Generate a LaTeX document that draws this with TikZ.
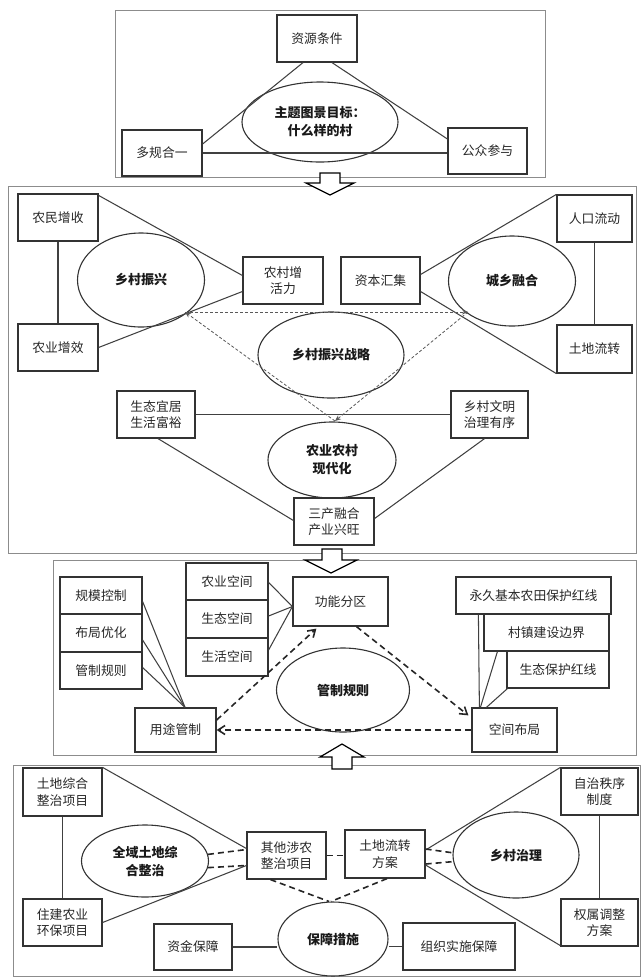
\documentclass[tikz,border=0pt]{standalone}
\usepackage{fontspec}
\setmainfont{Noto Sans CJK SC}
\usetikzlibrary{arrows.meta,calc,shapes.geometric}
\begin{document}
\begin{tikzpicture}[x=1pt,y=-1pt,
  bx/.style={draw=black!80, line width=1.2pt, inner sep=0pt, align=center, font=\fontsize{12.8}{16.5}\selectfont, text=black!85},
  el/.style={ellipse, draw=black!80, line width=1.1pt, inner sep=0pt, align=center, font=\fontsize{13}{18}\selectfont\bfseries, text=black!90},
  ln/.style={draw=black!75, line width=1.05pt},
  frm/.style={draw=black!45, line width=1pt},
  tdash/.style={draw=black!65, line width=0.8pt, dash pattern=on 3pt off 2pt},
  kdash/.style={draw=black!85, line width=1.6pt, dash pattern=on 6pt off 4pt},
  blk/.style={draw=black, line width=1.2pt, fill=white, line join=miter}
]
\useasboundingbox (0,0) rectangle (643,978);

% ---------------- frames ----------------
\draw[frm] (115,10) rectangle (545,177);
\draw[frm] (8,186) rectangle (636,553);
\draw[frm] (53,560) rectangle (636,755);
\draw[frm] (13,765) rectangle (640,976);

% ---------------- panel 1 ----------------
\node[bx, minimum width=80pt, minimum height=47pt] (zy) at (317,38.5) {资源条件};
\node[el, minimum width=156pt, minimum height=80pt] (e1) at (320,122) {主题图景目标：\\什么样的村};
\node[bx, minimum width=80pt, minimum height=46pt] (dg) at (162,153) {多规合一};
\node[bx, minimum width=79pt, minimum height=46pt] (gz) at (487.5,151) {公众参与};
\draw[ln] ($(zy.south)+(-14,0)$) -- ($(dg.east)+(0,-9)$);
\draw[ln] ($(zy.south)+(15,0)$) -- ($(gz.west)+(0,-12)$);
\draw[ln] (dg.east) -- (dg.east -| gz.west);

% ---------------- panel 2 ----------------
\node[bx, minimum width=80pt, minimum height=47pt] (nm) at (58,217.5) {农民增收};
\node[bx, minimum width=80pt, minimum height=47pt] (ny) at (58,347.5) {农业增效};
\node[el, minimum width=127pt, minimum height=94pt] (e2) at (141,280) {乡村振兴};
\node[bx, minimum width=80pt, minimum height=47pt] (nc) at (283,280.5) {农村增\\活力};
\node[bx, minimum width=79pt, minimum height=47pt] (zb) at (380.5,280.5) {资本汇集};
\node[el, minimum width=127pt, minimum height=90pt] (e3) at (512,281) {城乡融合};
\node[bx, minimum width=75pt, minimum height=47pt] (rk) at (594.5,218.5) {人口流动};
\node[bx, minimum width=75pt, minimum height=48pt] (td) at (594.5,349) {土地流转};
\node[el, minimum width=146pt, minimum height=86pt] (e4) at (331,355) {乡村振兴战略};
\node[bx, minimum width=78pt, minimum height=47pt] (st) at (156,414.5) {生态宜居\\生活富裕};
\node[bx, minimum width=77pt, minimum height=47pt] (xc) at (489.5,414.5) {乡村文明\\治理有序};
\node[el, minimum width=128pt, minimum height=76pt] (e5) at (332,460) {农业农村\\现代化};
\node[bx, minimum width=80pt, minimum height=47pt] (sc) at (334,521.5) {三产融合\\产业兴旺};

\draw[ln] ($(nm.north east)+(0,2)$) -- ($(nc.west)+(0,-5)$);
\draw[ln] (ny.east) -- ($(nc.west)+(0,11)$);
\draw[ln] (nm.south) -- (ny.north);
\draw[ln] ($(zb.east)+(0,-6)$) -- (rk.north west);
\draw[ln] ($(zb.east)+(0,11)$) -- (td.south west);
\draw[ln] (rk.south) -- (td.north);
\draw[ln] (st.east) -- (st.east -| xc.west);
\draw[ln] ($(st.south)+(2,0)$) -- ($(sc.west)+(0,-1)$);
\draw[ln] ($(xc.south)+(-5,0)$) -- ($(sc.east)+(0,-3)$);

\coordinate (tL) at (185,312);
\coordinate (tR) at (468,312);
\coordinate (tB) at (335,421);
\draw[tdash, -{Stealth[length=6pt,width=5pt]}] (tL) -- (tR);
\draw[tdash, -{Stealth[length=6pt,width=5pt]}] (tR) -- (tB);
\draw[tdash, -{Stealth[length=6pt,width=5pt]}] (tB) -- (tL);

% ---------------- panel 3 ----------------
\node[bx, minimum width=82pt, minimum height=37pt] (gm) at (101,595.5) {规模控制};
\node[bx, minimum width=82pt, minimum height=38pt] (bj) at (101,633) {布局优化};
\node[bx, minimum width=82pt, minimum height=37pt] (gzr) at (101,670.5) {管制规则};
\node[bx, minimum width=82pt, minimum height=37pt] (nk) at (227,581.5) {农业空间};
\node[bx, minimum width=82pt, minimum height=38pt] (stk) at (227,619) {生态空间};
\node[bx, minimum width=82pt, minimum height=38pt] (shk) at (227,657) {生活空间};
\node[bx, minimum width=95pt, minimum height=49pt] (gn) at (340.5,601.5) {功能分区};
\node[bx, minimum width=81pt, minimum height=44pt] (yt) at (175.5,730) {用途管制};
\node[bx, minimum width=85pt, minimum height=44pt] (kj) at (514.5,730) {空间布局};
\node[el, minimum width=133pt, minimum height=84pt] (e6) at (343,690) {管制规则};
\node[bx, minimum width=155pt, minimum height=37pt] (yj) at (533.5,595.5) {永久基本农田保护红线};
\node[bx, minimum width=125pt, minimum height=37pt] (cz) at (546.5,632.5) {村镇建设边界};
\node[bx, minimum width=102pt, minimum height=37pt] (sth) at (558,669.5) {生态保护红线};

\coordinate (pY) at ($(yt.north)+(9.5,0)$);
\draw[ln] ($(gm.east)+(0,6)$) -- (pY);
\draw[ln] ($(bj.east)+(0,7)$) -- (pY);
\draw[ln] ($(gzr.east)+(0,-3)$) -- (pY);
\coordinate (pG) at ($(gn.west)+(0,5)$);
\draw[ln] ($(nk.east)+(0,1)$) -- (pG);
\draw[ln] ($(stk.east)+(0,-3)$) -- (pG);
\draw[ln] ($(shk.east)+(0,-7)$) -- (pG);
\draw[ln] ($(yj.south west)+(23,0)$) -- ($(kj.north west)+(8,0)$);
\draw[ln] ($(cz.south west)+(14,0)$) -- ($(kj.north west)+(9,0)$);
\draw[ln] ($(sth.south west)+(1,0)$) -- ($(kj.north west)+(15,0)$);

\draw[kdash, -{Straight Barb[length=7pt,width=9pt,line width=1.6pt]}] ($(yt.east)+(0,-10)$) -- ($(gn.south west)+(24,2)$);
\draw[kdash, -{Straight Barb[length=7pt,width=9pt,line width=1.6pt]}] ($(gn.south)+(16,0)$) -- ($(kj.north west)+(-3,8)$);
\draw[kdash, -{Straight Barb[length=7pt,width=9pt,line width=1.6pt]}] (kj.west) -- (yt.east);

% ---------------- panel 4 ----------------
\node[bx, minimum width=79pt, minimum height=48pt] (tz) at (62.5,792) {土地综合\\整治项目};
\node[bx, minimum width=79pt, minimum height=47pt] (zj) at (62.5,922.5) {住建农业\\环保项目};
\node[el, minimum width=127pt, minimum height=72pt] (e7) at (145,861) {全域土地综\\合整治};
\node[bx, minimum width=79pt, minimum height=47pt] (qt) at (286.5,855.5) {其他涉农\\整治项目};
\node[bx, minimum width=78pt, minimum height=46pt] (zjb) at (193,947) {资金保障};
\node[el, minimum width=110pt, minimum height=74pt] (e8) at (333,939) {保障措施};
\node[bx, minimum width=112pt, minimum height=47pt] (zz) at (459,946.5) {组织实施保障};
\node[bx, minimum width=80pt, minimum height=48pt] (tl) at (385,854) {土地流转\\方案};
\node[el, minimum width=126pt, minimum height=86pt] (e9) at (516,855) {乡村治理};
\node[bx, minimum width=77pt, minimum height=47pt] (zx) at (599.5,791.5) {自治秩序\\制度};
\node[bx, minimum width=77pt, minimum height=47pt] (qs) at (599.5,922.5) {权属调整\\方案};

\draw[ln] (tz.north east) -- ($(qt.west)+(0,-7)$);
\draw[ln] (zj.east) -- ($(qt.west)+(0,10)$);
\draw[ln] (tz.south) -- (zj.north);
\draw[ln] (zjb.east) -- (zjb.east -| e8.west);
\draw[ln] (zz.west) -- (zz.west -| e8.east);
\draw[ln] ($(tl.east)+(0,-4)$) -- (zx.north west);
\draw[ln] ($(tl.east)+(0,11)$) -- ($(qs.south west)+(0,-1)$);
\draw[ln] (zx.south) -- (qs.north);

\draw[kdash] (e7.6) -- ($(qt.west)+(0,-6)$);
\draw[kdash] (e7.354) -- ($(qt.west)+(0,10)$);
\draw[kdash] ($(qt.south)+(-16,0)$) -- ($(e8.north)+(-4,0)$);
\draw[kdash] ($(tl.south)+(2,0)$) -- ($(e8.north)+(-2,0)$);
\draw[kdash] (qt.east) -- (qt.east -| tl.west);
\draw[kdash] ($(tl.east)+(0,-5)$) -- (e9.178);
\draw[kdash] ($(tl.east)+(0,10)$) -- (e9.186);

% ---------------- block arrows ----------------
\draw[blk] (320,173) -- (340,173) -- (340,183) -- (354,183) -- (330,195) -- (306,183) -- (320,183) -- cycle;
\draw[blk] (322,549) -- (342,549) -- (342,560) -- (357,560) -- (331,573) -- (305,560) -- (322,560) -- cycle;
\draw[blk] (332,769) -- (352,769) -- (352,757) -- (364,757) -- (342,744) -- (320,757) -- (332,757) -- cycle;
\end{tikzpicture}
\end{document}
